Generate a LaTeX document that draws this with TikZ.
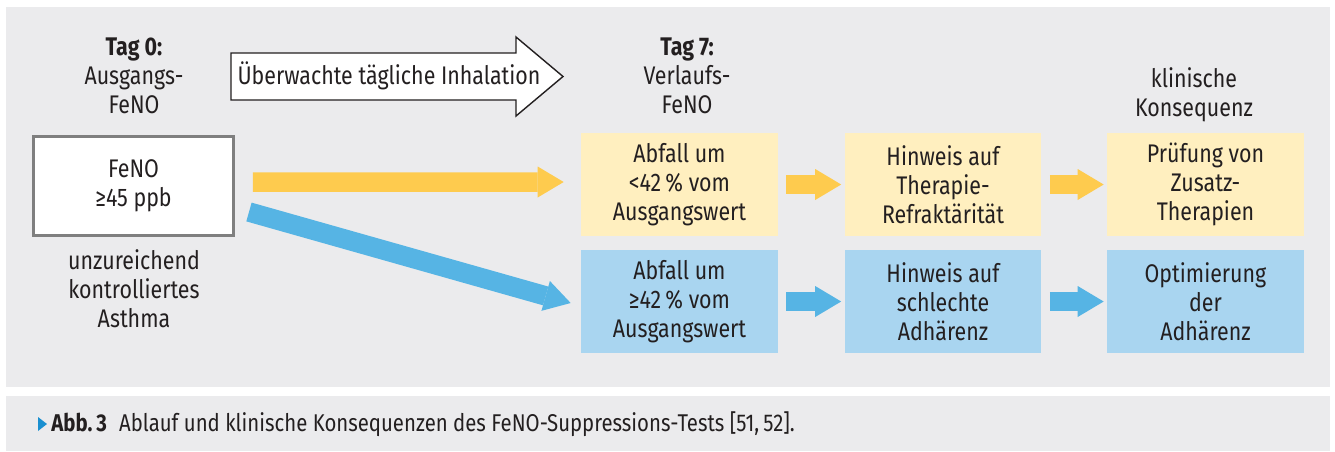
\documentclass[tikz,border=0pt]{standalone}
\usepackage{fontspec}
\setmainfont{Fira Sans}[FakeStretch=0.84]
\usepackage{xcolor}
\usepackage{tikz}
\usetikzlibrary{arrows.meta,calc}

\definecolor{panelgray}{HTML}{EBEBED}
\definecolor{textdark}{HTML}{231F20}
\definecolor{goldarrow}{HTML}{FECB4E}
\definecolor{goldbox}{HTML}{FFEFBF}
\definecolor{bluearrow}{HTML}{56B4E4}
\definecolor{bluebox}{HTML}{A9D5F0}
\definecolor{capblue}{HTML}{1A8FD0}
\definecolor{framegray}{HTML}{7F7F7F}

\begin{document}
\begin{tikzpicture}[x=0.02cm, y=-0.02cm,
    every node/.style={text=textdark, font=\fontsize{14.5}{16.5}\selectfont, align=center, inner sep=0pt},
    result/.style={rectangle, minimum width=3.94cm, minimum height=2.06cm},
    fat/.style={line width=0.39cm, -{Triangle[length=0.52cm, width=0.62cm, line width=0pt]}},
    small/.style={fat, shorten <=0.16cm, shorten >=0.06cm},
    outline/.style={draw=textdark, fill=white, line width=0.8pt, line join=miter}
]
\useasboundingbox (0,0) rectangle (1335,451);
\fill[panelgray] (6,7) rectangle (1330,387);
\fill[panelgray] (6,396) rectangle (1330,451);

% Tag 0
\node (tag0) at (134,76) {\textbf{Tag 0:}\\Ausgangs-\\FeNO};
\node[draw=framegray, line width=0.06cm, fill=white, minimum width=4cm, minimum height=1.98cm] (feno) at (133.5,186) {FeNO\\≥45 ppb};
\node (asthma) at (134,289) {unzureichend\\kontrolliertes\\Asthma};

% daily inhalation
\draw[outline] (231,53) -- (516,53) -- (516,37) -- (563,76.5) -- (516,116) -- (516,100) -- (231,100) -- cycle;
\node (inhalation) at (389,76) {Überwachte tägliche Inhalation};

% Tag 7 and consequences
\node (tag7) at (687,76) {\textbf{Tag 7:}\\Verlaufs-\\FeNO};
\node (konsequenz) at (1194,95) {klinische\\Konsequenz};

\node[result, fill=goldbox] (abfallA) at (679.5,184.5) {Abfall um\\<42\,\% vom\\Ausgangswert};
\node[result, fill=goldbox] (hinweisA) at (943,184.5) {Hinweis auf\\Therapie-\\Refraktärität};
\node[result, fill=goldbox] (pruefung) at (1205.5,184.5) {Prüfung von\\Zusatz-\\Therapien};

\node[result, fill=bluebox] (abfallB) at (679.5,301.5) {Abfall um\\≥42\,\% vom\\Ausgangswert};
\node[result, fill=bluebox] (hinweisB) at (943,301.5) {Hinweis auf\\schlechte\\Adhärenz};
\node[result, fill=bluebox] (optimierung) at (1205.5,301.5) {Optimierung\\der\\Adhärenz};

\draw[fat, goldarrow] ([xshift=0.36cm, yshift=0.08cm]feno.east) -- ([xshift=-0.34cm, yshift=0.05cm]abfallA.west);
\draw[fat, bluearrow] ([xshift=0.28cm, yshift=-0.52cm]feno.east) -- ([xshift=-0.2cm, yshift=-0.03cm]abfallB.west);
\draw[small, goldarrow] (abfallA) -- (hinweisA);
\draw[small, goldarrow] (hinweisA) -- (pruefung);
\draw[small, bluearrow] (abfallB) -- (hinweisB);
\draw[small, bluearrow] (hinweisB) -- (optimierung);

% caption
\fill[capblue] (38,417) -- (47,424) -- (38,431) -- cycle;
\node[anchor=west, font=\fontsize{13.8}{15}\selectfont] (caption) at (51,424) {\textbf{Abb.\,3}\enspace Ablauf und klinische Konsequenzen des FeNO-Suppressions-Tests [51,\,52].};
\end{tikzpicture}
\end{document}
